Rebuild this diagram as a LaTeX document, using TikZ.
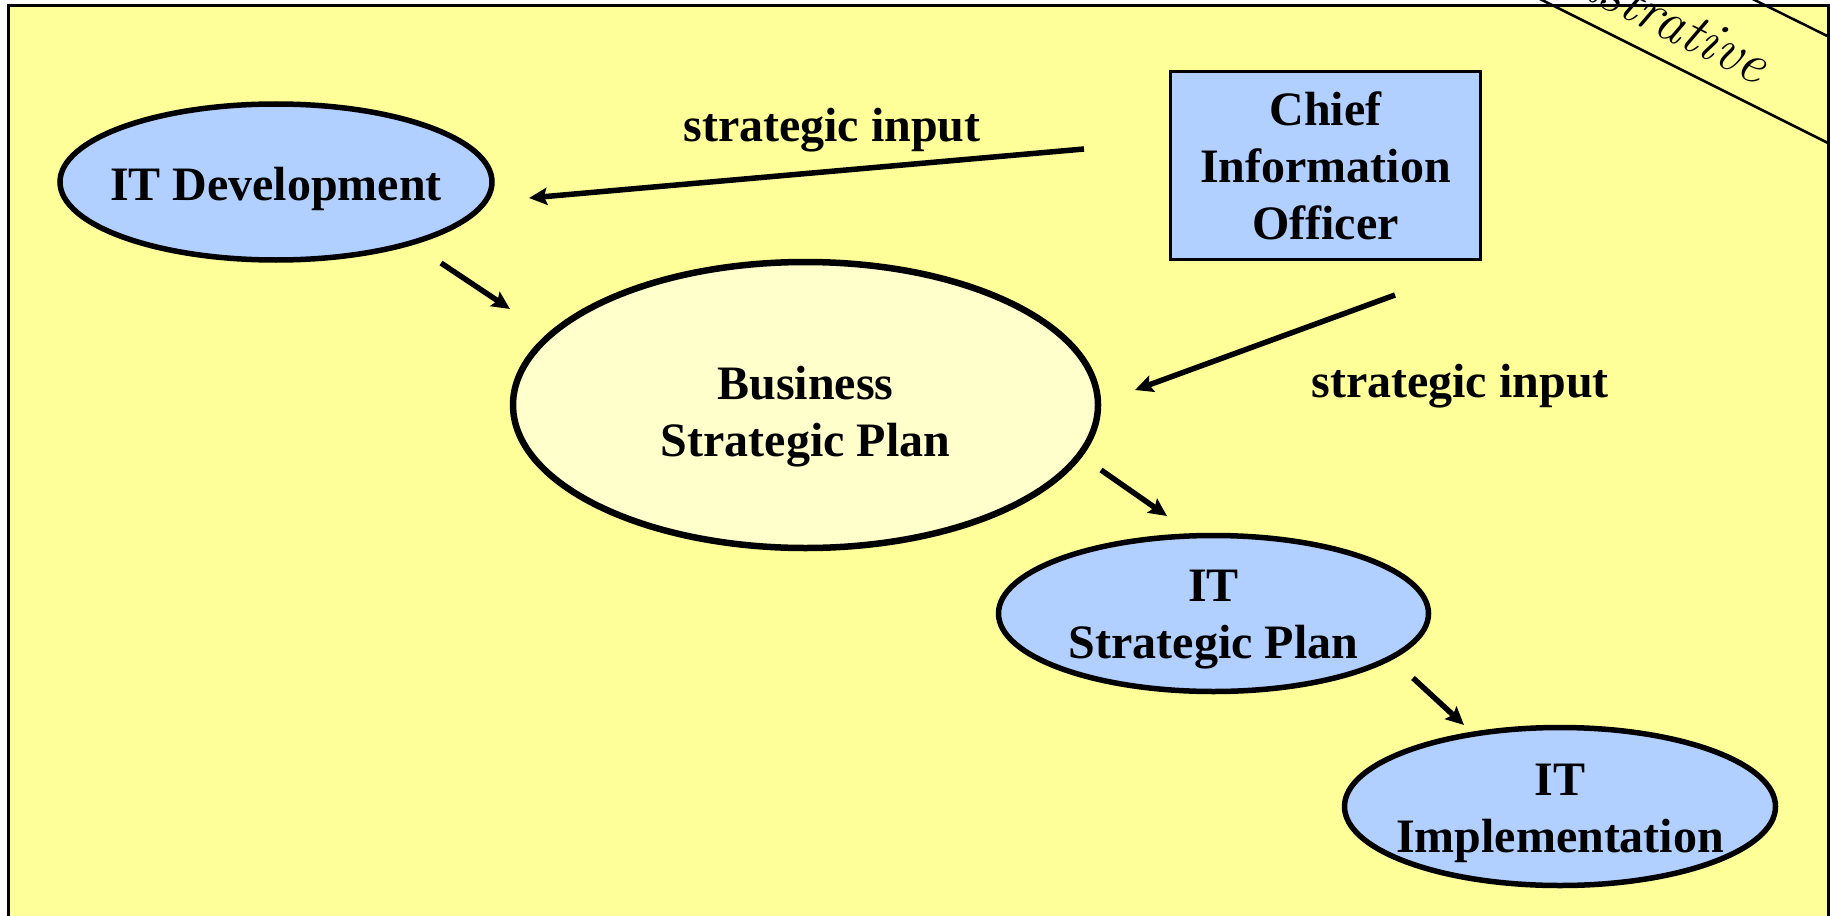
\documentclass[tikz,border=0pt]{standalone}
\usepackage{fontspec}
\newfontfamily\tnr{Liberation Serif}
\usetikzlibrary{shapes.geometric,arrows.meta}
\definecolor{bgyellow}{RGB}{255,255,153}
\definecolor{nodeblue}{RGB}{178,208,255}
\definecolor{paleyellow}{RGB}{255,255,204}
\newcommand{\ctext}[1]{\makebox[0pt]{\begin{tabular}[t]{@{}c@{}}#1\end{tabular}}}
\begin{document}
\begin{tikzpicture}[x=1pt,y=-1pt,
  bigfont/.style={font=\tnr\bfseries\fontsize{48}{57}\selectfont},
  ell/.style={ellipse, draw=black, line width=5.5pt, inner sep=0pt, bigfont},
  blueell/.style={ell, fill=nodeblue},
  paleell/.style={ell, fill=paleyellow, line width=6.5pt},
  ciobox/.style={rectangle, draw=black, line width=3pt, fill=nodeblue, inner sep=0pt, bigfont},
  arr/.style={line width=5.5pt, -{Stealth[length=18pt,width=17pt,inset=3pt]}},
  lbl/.style={inner sep=0pt, bigfont},
  banner/.style={line width=2.5pt}
]
\useasboundingbox (0,0) rectangle (1830,915);
\clip (0,0) rectangle (1830,915);
\fill[white] (0,0) rectangle (1830,915);
\filldraw[fill=bgyellow, draw=black, line width=3pt] (8.5,6) rectangle (1828,930);

% nodes
\node[blueell, minimum width=432pt, minimum height=156pt, text height=36pt, text depth=0pt]
  (itdev) at (276,182) {\ctext{IT Development}};
\node[paleell, minimum width=585pt, minimum height=286pt, text height=0pt, text depth=12pt]
  (bsp) at (805.5,405) {\ctext{Business\\Strategic Plan}};
\node[ciobox, minimum width=310pt, minimum height=188pt, text height=0pt, text depth=81pt]
  (cio) at (1325.5,165.5) {\ctext{Chief\\Information\\Officer}};
\node[blueell, minimum width=430pt, minimum height=156pt, text height=0pt, text depth=24pt]
  (itsp) at (1213.5,613.5) {\ctext{IT\\Strategic Plan}};
\node[blueell, minimum width=431pt, minimum height=158pt, text height=0pt, text depth=23pt]
  (itimpl) at (1560,806.5) {\ctext{IT\\Implementation}};

% labels
\node[lbl, anchor=base] (lab1) at (832,142) {strategic input};
\node[lbl, anchor=base] (lab2) at (1460,397) {strategic input};

% connectors
\draw[arr] ([shift={(-241.5,-16.5)}]cio.center) -- ([shift={(253,16)}]itdev.center);
\draw[arr] ([shift={(165,81)}]itdev.center) -- ([shift={(-295.5,-96)}]bsp.center);
\draw[arr] ([shift={(69.5,129.5)}]cio.center) -- ([shift={(329.5,-15)}]bsp.center);
\draw[arr] ([shift={(295.5,65)}]bsp.center) -- ([shift={(-46.5,-97.5)}]itsp.center);
\draw[arr] ([shift={(199.5,64.5)}]itsp.center) -- ([shift={(-96,-81.5)}]itimpl.center);

% corner banner
\draw[banner] (1500,-21) -- (1900,179);
\draw[banner] (1700,-27) -- (1900,72);
\node[rotate=-26.57, anchor=base east, inner sep=0pt, font=\itshape\fontsize{58}{64}\selectfont]
  (illus) at (1757,85) {Illustrative};
\end{tikzpicture}
\end{document}
